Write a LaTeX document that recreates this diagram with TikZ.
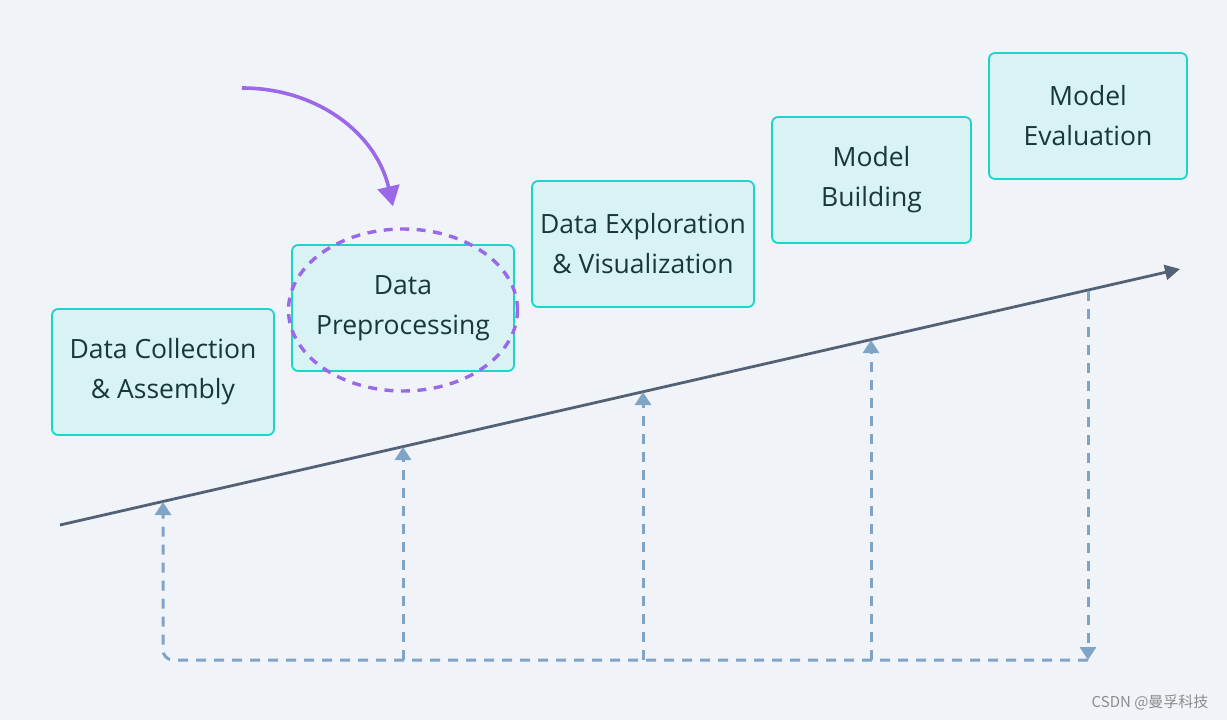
\documentclass[tikz,border=0pt]{standalone}
\usepackage{fontspec}
\setmainfont{Open Sans}
\newfontfamily\cjk{Noto Sans CJK SC}
\usetikzlibrary{arrows.meta,positioning}
\usetikzlibrary{shapes.geometric}
\definecolor{bgcol}{HTML}{F0F4F9}
\definecolor{boxfill}{HTML}{D9F2F4}
\definecolor{boxline}{HTML}{1DD5CA}
\definecolor{boxtext}{HTML}{173839}
\definecolor{axiscol}{HTML}{526173}
\definecolor{flowcol}{HTML}{80A4C6}
\definecolor{focuscol}{HTML}{9B69E8}

\begin{document}
\begin{tikzpicture}
		[x=1pt,y=-1pt,
		stage node/.style={draw=boxline,fill=boxfill,text=boxtext,line width=1.8pt,rounded corners=6pt,
			minimum width=222pt,minimum height=126pt,inner sep=0pt,align=center,
			font=\fontsize{26.5}{40}\selectfont},
		flow/.style={draw=flowcol,line width=3pt,dash pattern=on 10pt off 8pt,-{Triangle[width=16pt,length=13pt]}}]
		\useasboundingbox[fill=bgcol] (0,0) rectangle (1227,720);
		
		\node[stage node] (A) at (163,372) {Data Collection\\\& Assembly};
		\node[stage node] (B) at (403,308) {Data\\Preprocessing};
		\node[stage node] (C) at (643,244) {Data Exploration\\\& Visualization};
		\node[stage node,minimum width=199pt] (D) at (871.5,180) {Model\\Building};
		\node[stage node,minimum width=198pt] (E) at (1088,116) {Model\\Evaluation};
		
		% time axis
		\coordinate (start) at (60,525);
		\coordinate (end) at (1180,269);
		\draw[axiscol,line width=2.8pt,-{Triangle[width=15pt,length=15pt]}] (start) -- (end);
		
		% points on the axis and on the bottom line
		\coordinate (pA) at (163,502);
		\coordinate (pB) at (403,447);
		\coordinate (pC) at (643,392);
		\coordinate (pD) at (871,340);
		\coordinate (pE) at (1088,291);
		\coordinate (bA) at (163,660);
		\coordinate (bB) at (403,660);
		\coordinate (bC) at (643,660);
		\coordinate (bD) at (871,660);
		\coordinate (bE) at (1088,660);
		
		\draw[flow] (pE) -- (bE);
		\draw[flow,rounded corners=10pt] (bE) -- (bA) -- (pA);
		\draw[flow] (bB) -- (pB);
		\draw[flow] (bC) -- (pC);
		\draw[flow] (bD) -- (pD);
		
		% highlight
		\node[ellipse,draw=focuscol,line width=3.4pt,dash pattern=on 9pt off 7.5pt,
			minimum width=229pt,minimum height=162pt,inner sep=0pt] (focus) at (403,310) {};
		\coordinate (cue) at (242,88);
		\draw[focuscol,line width=3.6pt,-{Triangle[width=22pt,length=20pt]}]
			(cue) to[out=0,in=103] ([xshift=-10pt,yshift=21pt]focus.north);
		
		\node[text=black!45,font=\cjk\fontsize{15}{15}\selectfont,anchor=east] (mark) at (1212,702) {CSDN @曼孚科技};
\end{tikzpicture}
\end{document}
